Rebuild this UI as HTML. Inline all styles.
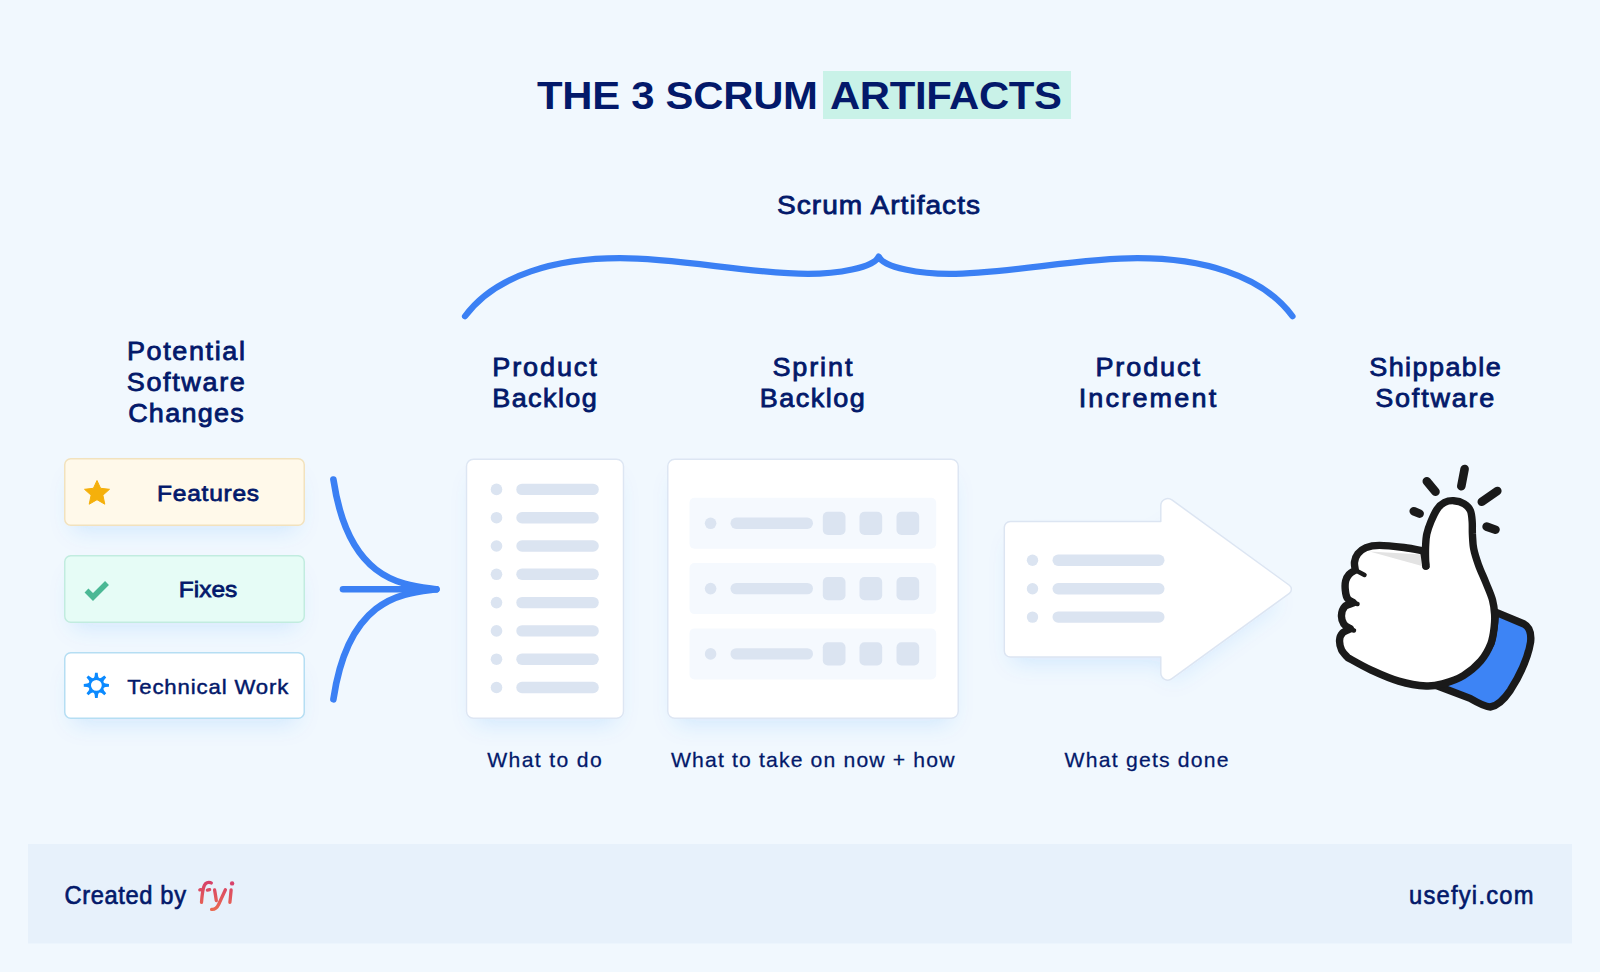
<!DOCTYPE html>
<html><head><meta charset="utf-8">
<style>
html,body{margin:0;padding:0;background:#f1f8fe;}
body{width:1600px;height:972px;overflow:hidden;position:relative;}
svg{position:absolute;left:0;top:0;display:block;}
text{font-family:"Liberation Sans",sans-serif;fill:#03196a;}
</style></head><body>
<svg width="1600" height="972" viewBox="0 0 1600 972">
<defs>
<filter id="sh" x="-30%" y="-30%" width="160%" height="170%">
<feMorphology in="SourceAlpha" operator="erode" radius="8" result="e"/>
<feGaussianBlur in="e" stdDeviation="11" result="b"/>
<feOffset in="b" dy="13" result="o"/>
<feFlood flood-color="#2a82f6" flood-opacity="0.14"/>
<feComposite in2="o" operator="in" result="s"/>
<feMerge><feMergeNode in="s"/><feMergeNode in="SourceGraphic"/></feMerge>
</filter>
<linearGradient id="fyig" gradientUnits="userSpaceOnUse" x1="0" y1="881" x2="0" y2="911">
<stop offset="0" stop-color="#d63f69"/><stop offset="1" stop-color="#ea6a50"/>
</linearGradient>
</defs>
<rect width="1600" height="972" fill="#f1f8fe"/>

<!-- Title -->
<rect x="823" y="71" width="248" height="48" fill="#c9f2e8"/>
<text transform="matrix(1.060,0,0,1,-32.22,0)" x="537" y="109" font-size="39.5" font-weight="bold" textLength="265.09" lengthAdjust="spacing">THE 3 SCRUM</text>
<text transform="matrix(1.060,0,0,1,-49.80,0)" x="830" y="109" font-size="39.5" font-weight="bold" textLength="218.87" lengthAdjust="spacing">ARTIFACTS</text>

<!-- Scrum Artifacts + brace -->
<text transform="matrix(1.080,0,0,1,-62.16,0)" x="777" y="214" font-size="26" style="stroke:#03196a;stroke-width:0.8px" textLength="187.96" lengthAdjust="spacing">Scrum Artifacts</text>
<path d="M465,316.25 C496,274 558,258.2 620,258.2 C680,258.2 750,273.9 808,273.9 C836,273.9 874,268 878.75,256.5 C883.50,268 921.50,273.9 949.50,273.9 C1007.50,273.9 1077.50,258.2 1137.50,258.2 C1199.50,258.2 1261.50,274 1292.50,316.25" fill="none" stroke="#3b80f4" stroke-width="6.2" stroke-linecap="round" stroke-linejoin="round"/>

<!-- Column headings -->
<g font-size="25" text-anchor="middle" style="stroke:#03196a;stroke-width:0.8px">
<text transform="matrix(1.080,0,0,1,-14.87,0)" x="185.9" y="360.3" textLength="109.26" lengthAdjust="spacing">Potential</text>
<text transform="matrix(1.080,0,0,1,-14.86,0)" x="185.8" y="391.1" textLength="109.26" lengthAdjust="spacing">Software</text>
<text transform="matrix(1.080,0,0,1,-14.87,0)" x="185.9" y="422.3" textLength="106.94" lengthAdjust="spacing">Changes</text>
<text transform="matrix(1.080,0,0,1,-43.56,0)" x="544.5" y="376.2" textLength="96.76" lengthAdjust="spacing">Product</text>
<text transform="matrix(1.080,0,0,1,-43.56,0)" x="544.5" y="407" textLength="96.76" lengthAdjust="spacing">Backlog</text>
<text transform="matrix(1.080,0,0,1,-64.99,0)" x="812.4" y="376.2" textLength="74.07" lengthAdjust="spacing">Sprint</text>
<text transform="matrix(1.080,0,0,1,-64.98,0)" x="812.2" y="407" textLength="97.22" lengthAdjust="spacing">Backlog</text>
<text transform="matrix(1.080,0,0,1,-91.82,0)" x="1147.7" y="376.2" textLength="96.76" lengthAdjust="spacing">Product</text>
<text transform="matrix(1.080,0,0,1,-91.79,0)" x="1147.4" y="407" textLength="127.31" lengthAdjust="spacing">Increment</text>
<text transform="matrix(1.080,0,0,1,-114.80,0)" x="1435" y="376.2" textLength="121.76" lengthAdjust="spacing">Shippable</text>
<text transform="matrix(1.080,0,0,1,-114.78,0)" x="1434.8" y="407" textLength="110.19" lengthAdjust="spacing">Software</text>
</g>

<!-- bottom captions -->
<g font-size="19.6" text-anchor="middle" style="stroke:#03196a;stroke-width:0.25px">
<text transform="matrix(1.080,0,0,1,-43.56,0)" x="544.5" y="767.5" textLength="106.02" lengthAdjust="spacing">What to do</text>
<text transform="matrix(1.080,0,0,1,-65.02,0)" x="812.7" y="767.5" textLength="262.50" lengthAdjust="spacing">What to take on now + how</text>
<text transform="matrix(1.080,0,0,1,-91.73,0)" x="1146.6" y="767.5" textLength="151.85" lengthAdjust="spacing">What gets done</text>
</g>

<!-- Left cards -->
<g filter="url(#sh)">
<rect x="64.75" y="458.75" width="239.5" height="66.5" rx="6" fill="#fff9ea" stroke="#f2e2bd" stroke-width="1.5"/>
<rect x="64.75" y="555.75" width="239.5" height="66.5" rx="6" fill="#e6fcf6" stroke="#c1ecdf" stroke-width="1.5"/>
<rect x="64.75" y="652.75" width="239.5" height="65.5" rx="6" fill="#ffffff" stroke="#b5def3" stroke-width="1.5"/>
</g>
<text transform="matrix(1.080,0,0,1,-16.65,0)" x="208.1" y="501" font-size="22.7" style="stroke:#03196a;stroke-width:0.75px" text-anchor="middle" textLength="94.44" lengthAdjust="spacing">Features</text>
<text transform="matrix(1.080,0,0,1,-16.65,0)" x="208.1" y="597.4" font-size="22.7" style="stroke:#03196a;stroke-width:0.75px" text-anchor="middle" textLength="54.17" lengthAdjust="spacing">Fixes</text>
<text transform="matrix(1.080,0,0,1,-16.62,0)" x="207.8" y="693.7" font-size="20.5" style="stroke:#03196a;stroke-width:0.45px" text-anchor="middle" textLength="149.07" lengthAdjust="spacing">Technical Work</text>
<!-- star -->
<path d="M97,480.5 L100.6,488.3 L109.5,489.3 L102.9,495.2 L104.8,504.2 L97,499.7 L89.2,504.2 L91.1,495.2 L84.5,489.3 L93.4,488.3 Z" fill="#f5b00b" stroke="#f5b00b" stroke-width="1" stroke-linejoin="round"/>
<!-- check -->
<path d="M86.5,590.5 L93,597 L107,583" fill="none" stroke="#4bb895" stroke-width="5.5" stroke-linejoin="miter"/>
<!-- gear -->
<path d="M94.61,676.16 L95.01,672.76 L97.71,672.76 L98.11,676.16 Q98.81,679.45 101.63,677.62 L104.31,675.50 L106.22,677.41 L104.10,680.09 Q102.27,682.91 105.56,683.61 L108.96,684.01 L108.96,686.71 L105.56,687.11 Q102.27,687.81 104.10,690.63 L106.22,693.31 L104.31,695.22 L101.63,693.10 Q98.81,691.27 98.11,694.56 L97.71,697.96 L95.01,697.96 L94.61,694.56 Q93.91,691.27 91.09,693.10 L88.41,695.22 L86.50,693.31 L88.62,690.63 Q90.45,687.81 87.16,687.11 L83.76,686.71 L83.76,684.01 L87.16,683.61 Q90.45,682.91 88.62,680.09 L86.50,677.41 L88.41,675.50 L91.09,677.62 Q93.91,679.45 94.61,676.16 Z M90.96,685.36 a5.40,5.40 0 1,0 10.80,0 a5.40,5.40 0 1,0 -10.80,0 Z" fill="#0b8aff" fill-rule="evenodd"/>

<!-- merge arrow -->
<g fill="none" stroke="#3b80f4" stroke-width="6.6" stroke-linecap="round">
<path d="M333.4,479.6 C349,584 406,585 436.3,589.2"/>
<path d="M333.4,699.3 C349,594.4 406,593.4 436.3,589.2"/>
<path d="M343,589.2 L436.3,589.2"/>
</g>

<!-- Product backlog card -->
<g filter="url(#sh)">
<rect x="466.5" y="459.25" width="157" height="259" rx="7" fill="#fff" stroke="#dde6f3" stroke-width="1.5"/>
<rect x="667.75" y="459.25" width="290.5" height="259" rx="7" fill="#fff" stroke="#dde6f3" stroke-width="1.5"/>
</g>
<g fill="#dbe4f1">
<circle cx="496.5" cy="489.4" r="5.8"/><rect x="516.3" y="483.7" width="82.5" height="11.4" rx="5.7"/>
<circle cx="496.5" cy="517.7" r="5.8"/><rect x="516.3" y="512" width="82.5" height="11.4" rx="5.7"/>
<circle cx="496.5" cy="546" r="5.8"/><rect x="516.3" y="540.3" width="82.5" height="11.4" rx="5.7"/>
<circle cx="496.5" cy="574.3" r="5.8"/><rect x="516.3" y="568.6" width="82.5" height="11.4" rx="5.7"/>
<circle cx="496.5" cy="602.6" r="5.8"/><rect x="516.3" y="596.9" width="82.5" height="11.4" rx="5.7"/>
<circle cx="496.5" cy="630.9" r="5.8"/><rect x="516.3" y="625.2" width="82.5" height="11.4" rx="5.7"/>
<circle cx="496.5" cy="659.2" r="5.8"/><rect x="516.3" y="653.5" width="82.5" height="11.4" rx="5.7"/>
<circle cx="496.5" cy="687.5" r="5.8"/><rect x="516.3" y="681.8" width="82.5" height="11.4" rx="5.7"/>
</g>
<!-- Sprint backlog rows -->
<g>
<rect x="689.5" y="497.8" width="246.7" height="51" rx="5" fill="#f5f9fe"/>
<g fill="#dbe4f1">
<circle cx="710.6" cy="523.3" r="5.8"/>
<rect x="730.5" y="517.6" width="82.5" height="11.4" rx="5.7"/>
<rect x="822.8" y="511.7" width="22.7" height="23.2" rx="5"/>
<rect x="859.5" y="511.7" width="22.7" height="23.2" rx="5"/>
<rect x="896.5" y="511.7" width="22.7" height="23.2" rx="5"/>
</g>
</g>
<g transform="translate(0,65.3)"><g>
<rect x="689.5" y="497.8" width="246.7" height="51" rx="5" fill="#f5f9fe"/>
<g fill="#dbe4f1">
<circle cx="710.6" cy="523.3" r="5.8"/>
<rect x="730.5" y="517.6" width="82.5" height="11.4" rx="5.7"/>
<rect x="822.8" y="511.7" width="22.7" height="23.2" rx="5"/>
<rect x="859.5" y="511.7" width="22.7" height="23.2" rx="5"/>
<rect x="896.5" y="511.7" width="22.7" height="23.2" rx="5"/>
</g>
</g></g>
<g transform="translate(0,130.6)"><g>
<rect x="689.5" y="497.8" width="246.7" height="51" rx="5" fill="#f5f9fe"/>
<g fill="#dbe4f1">
<circle cx="710.6" cy="523.3" r="5.8"/>
<rect x="730.5" y="517.6" width="82.5" height="11.4" rx="5.7"/>
<rect x="822.8" y="511.7" width="22.7" height="23.2" rx="5"/>
<rect x="859.5" y="511.7" width="22.7" height="23.2" rx="5"/>
<rect x="896.5" y="511.7" width="22.7" height="23.2" rx="5"/>
</g>
</g></g>


<!-- Increment arrow -->
<path filter="url(#sh)" d="M1004.30,527.50 A6.00,6.00 0 0,1 1010.30,521.50 L1160.80,521.50 L1160.80,505.54 A7.00,7.00 0 0,1 1171.92,499.88 L1289.34,585.26 A5.00,5.00 0 0,1 1289.34,593.34 L1171.92,678.72 A7.00,7.00 0 0,1 1160.80,673.06 L1160.80,657.00 L1010.30,657.00 A6.00,6.00 0 0,1 1004.30,651.00 Z" fill="#fff" stroke="#dce5f2" stroke-width="1.5" stroke-linejoin="round"/>
<g fill="#dbe4f1">
<circle cx="1032.5" cy="560.3" r="5.7"/><rect x="1052.5" y="554.6" width="112" height="11.3" rx="5.65"/>
<circle cx="1032.5" cy="588.8" r="5.7"/><rect x="1052.5" y="583.1" width="112" height="11.3" rx="5.65"/>
<circle cx="1032.5" cy="617.1" r="5.7"/><rect x="1052.5" y="611.4" width="112" height="11.3" rx="5.65"/>
</g>

<!-- Thumbs up -->
<g stroke="#1a1a1a" stroke-linecap="round" stroke-linejoin="round">
<g stroke-width="8.6">
<line x1="1426.8" y1="481.2" x2="1435.5" y2="491.8"/>
<line x1="1464.6" y1="469" x2="1461.3" y2="486.2"/>
<line x1="1497.3" y1="491" x2="1481.8" y2="501.7"/>
<line x1="1413.8" y1="511.2" x2="1419.6" y2="513.6"/>
<line x1="1486.6" y1="526.6" x2="1495.5" y2="529.7"/>
</g>
<path d="M1437,685.7 L1443.4,683.6 C1465,676 1482,661 1490.9,643.5 C1494,632 1495,620 1495.6,612.1 L1524,624 C1530,627 1531.5,633 1530.6,642 C1528,658 1520,675 1510.3,690.3 C1503,701 1497,706 1490.2,707 C1485,707 1478,703 1470.1,698.4 Z" fill="#3d84f5" stroke-width="7.4"/>
<path d="M1425.9,566.1 C1425.8,564.4 1425.5,559.4 1425.5,556.0 C1425.5,552.6 1425.4,549.7 1425.6,546.0 C1425.8,542.3 1425.9,538.0 1426.8,534.0 C1427.7,530.0 1429.2,525.8 1430.9,521.7 C1432.6,517.6 1434.8,512.5 1437.0,509.3 C1439.2,506.1 1441.6,503.9 1444.4,502.5 C1447.2,501.1 1450.4,500.5 1453.7,500.7 C1457.0,500.9 1461.4,502.1 1464.2,503.8 C1467.0,505.5 1469.1,507.6 1470.4,510.6 C1471.7,513.6 1471.9,517.8 1472.2,521.7 C1472.5,525.6 1472.2,529.5 1472.4,534.0 C1472.7,538.5 1472.7,543.6 1473.7,548.8 C1474.7,554.0 1476.5,559.3 1478.5,565.0 C1480.5,570.7 1483.7,577.2 1486.0,583.0 C1488.3,588.8 1491.1,594.8 1492.5,600.0 C1493.9,605.2 1494.3,609.5 1494.6,614.0 C1494.9,618.5 1494.8,622.1 1494.2,627.0 C1493.6,631.9 1493.1,637.9 1490.9,643.5 C1488.7,649.1 1485.4,655.5 1480.8,660.9 C1476.2,666.2 1469.6,671.8 1463.4,675.6 C1457.2,679.4 1449.6,681.9 1443.4,683.6 C1437.2,685.3 1433.7,686.4 1426.2,686.0 C1418.8,685.6 1407.9,683.8 1398.7,681.1 C1389.5,678.5 1379.7,674.0 1371.2,670.1 C1362.7,666.2 1351.8,659.8 1347.9,657.7 C1346.9,656.4 1343.0,653.0 1341.6,650.0 C1340.2,647.0 1339.4,642.8 1339.6,640.0 C1339.8,637.2 1340.7,634.9 1342.5,633.0 C1344.3,631.1 1349.1,629.5 1350.4,628.8 C1349.3,628.0 1345.3,626.3 1343.8,624.0 C1342.3,621.7 1341.3,618.1 1341.5,615.2 C1341.7,612.3 1342.8,608.6 1344.8,606.5 C1346.8,604.4 1352.0,603.4 1353.5,602.8 C1352.5,602.1 1348.9,600.6 1347.5,598.5 C1346.1,596.4 1345.6,592.9 1345.3,590.0 C1345.0,587.1 1345.0,583.6 1345.6,581.0 C1346.2,578.4 1347.4,576.3 1349.0,574.5 C1350.6,572.7 1354.2,570.8 1355.3,570.1 C1355.2,568.8 1354.1,564.8 1354.5,562.1 C1354.9,559.4 1355.9,556.2 1357.8,553.8 C1359.7,551.4 1362.4,549.0 1366.0,547.6 C1369.6,546.2 1373.1,545.4 1379.4,545.4 C1385.7,545.4 1396.6,546.6 1404.0,547.5 C1411.4,548.4 1420.5,550.4 1423.8,551.0 Z" fill="#fff" stroke-width="7.4"/>
<path d="M1369.5,551.5 L1422,554.5 L1422,566 Z" fill="#e3e3e3" stroke="none"/>
<path d="M1423.8,551 L1425.9,566.1" fill="none" stroke-width="7.4"/>
<g stroke-width="4.5">
<line x1="1357" y1="571" x2="1364.5" y2="575"/>
<line x1="1350" y1="601.8" x2="1357.5" y2="604"/>
<line x1="1347" y1="628.5" x2="1354" y2="630.5"/>
</g>
</g>

<!-- footer -->
<rect x="28" y="844" width="1544" height="99.5" fill="#e7f1fb"/>
<text transform="matrix(0.930,0,0,1,4.51,0)" x="64.5" y="903.8" font-size="25.5" style="stroke:#03196a;stroke-width:0.65px" textLength="130.65" lengthAdjust="spacing">Created by</text>
<g fill="none" stroke="url(#fyig)" stroke-width="3.3" stroke-linecap="round" stroke-linejoin="round">
<path d="M201.5,902.4 C202,896 202.6,891 203.6,887.5 C204.6,883.8 206.5,882.3 208.8,882.3 C210,882.3 210.8,882.6 211.3,883"/>
<path d="M199.8,889.9 L200.9,889.7 M207.4,890.1 L209.6,889.6"/>
<path d="M214.6,889.9 C215.2,893.5 215.9,897.5 216.3,900.6"/>
<path d="M225.4,889.7 C222.5,896 220.3,901 218.6,904.5 C217.2,907.5 215.3,909.4 212.3,909.4 L211.6,909.4"/>
<path d="M231.1,889.9 C230.8,894 230.3,898.5 229.9,902.4"/>
</g>
<circle cx="232.1" cy="883.4" r="2.2" fill="#d8436a"/>
<text transform="matrix(0.930,0,0,1,107.34,0)" x="1533.5" y="903.8" font-size="25.5" style="stroke:#03196a;stroke-width:0.65px" text-anchor="end" textLength="133.87" lengthAdjust="spacing">usefyi.com</text>
</svg>
</body></html>
